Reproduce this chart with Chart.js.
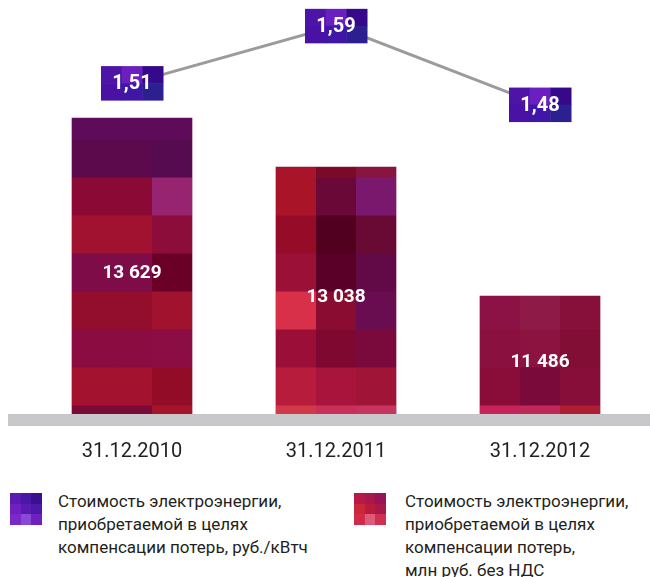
<!DOCTYPE html>
<html>
<head>
<meta charset="utf-8">
<script src="https://cdn.jsdelivr.net/npm/chart.js@4"></script>
<style>
  body { margin: 0; background: #fff; }
  #wrap { position: relative; width: 650px; height: 577px; font-family: Roboto, "Liberation Sans", sans-serif; color: #231f20; }
  #chart { position: absolute; left: 0; top: 0; }
  .sq { position: absolute; top: 493px; width: 32px; height: 32px; display: grid; grid-template-columns: repeat(3, 1fr); grid-template-rows: repeat(3, 1fr); }
  .lg { position: absolute; top: 490px; font-size: 17px; line-height: 23px; }
</style>
</head>
<body>
<div id="wrap">
  <canvas id="chart" width="650" height="475"></canvas>
  <div class="sq" id="sq1" style="left:10px"></div>
  <div class="lg" style="left:58px">Стоимость электроэнергии,<br>приобретаемой в целях<br>компенсации потерь, руб./кВтч</div>
  <div class="sq" id="sq2" style="left:354px"></div>
  <div class="lg" style="left:405px">Стоимость электроэнергии,<br>приобретаемой в целях<br>компенсации потерь,<br>млн руб. без НДС</div>
</div>
<script>
// Data
const categories = ['31.12.2010', '31.12.2011', '31.12.2012'];
const costMln = [13629, 13038, 11486];      // млн руб. без НДС
const pricePerKwh = [1.51, 1.59, 1.48];     // руб./кВтч

// Mosaic tile colours per bar, rows from the bottom up, 3 columns each
const BAR_TILES = [
  [['#7a0a38', '#7a0a38', '#a6142c'], ['#a3122e', '#a3122e', '#920c28'], ['#8a0c40', '#8a0c40', '#8c0c44'],
   ['#930e2c', '#930e2c', '#a0122e'], ['#7d0c48', '#7d0c48', '#6a0025'], ['#a01230', '#a01230', '#8c0c3a'],
   ['#8b0a35', '#8b0a35', '#962470'], ['#5c0a4c', '#5c0a4c', '#560a50'], ['#5e0c5a', '#5e0c5a', '#5e0c5a']],
  [['#d03a48', '#c8305a', '#c83460'], ['#b81c3c', '#a8143c', '#a01438'], ['#9a0e38', '#7e0830', '#7a0a3c'],
   ['#d83048', '#8a0c30', '#6a0c50'], ['#9a1036', '#5a0028', '#620a48'], ['#960c28', '#520020', '#680a34'],
   ['#aa1428', '#6a0838', '#7a186e'], ['#a8142c', '#7a0a28', '#8a1440']],
  [['#c8245a', '#c02858', '#b01c30'], ['#8a0c38', '#7a0a3a', '#860e38'], ['#8a1040', '#8c1240', '#820e36'],
   ['#8c1245', '#8e1a48', '#86103a']]
];
const BOX_TILES = [['#4e14a8', '#6c1fc0', '#35098a'], ['#4a12a4', '#4016a6', '#2c2090']];
const LEGEND_PURPLE = ['#5a1cb0', '#4a18a8', '#3a1090', '#7020c0', '#5a1cb0', '#5018a8', '#7a28c8', '#8a48d8', '#7020c0'];
const LEGEND_RED = ['#b81a48', '#a8184a', '#981458', '#c82838', '#b81a40', '#a81848', '#d02c48', '#e0587a', '#d03050'];

function fillSquare(id, colors) {
  const el = document.getElementById(id);
  colors.forEach(c => {
    const d = document.createElement('div');
    d.style.background = c;
    el.appendChild(d);
  });
}
fillSquare('sq1', LEGEND_PURPLE);
fillSquare('sq2', LEGEND_RED);

const fmtThousands = v => String(v).replace(/\B(?=(\d{3})+(?!\d))/g, ' ');
const fmtComma = v => v.toFixed(2).replace('.', ',');

// Paint bars with mosaic tiles
const mosaicPlugin = {
  id: 'mosaic',
  afterDatasetsDraw(chart) {
    const ctx = chart.ctx;
    const base = chart.chartArea.bottom;
    chart.getDatasetMeta(0).data.forEach((bar, i) => {
      const x = bar.x, y = bar.y, width = bar.width;
      const left = x - width / 2, colW = width / 3;
      ctx.save();
      ctx.beginPath();
      ctx.rect(left, y, width, base - y);
      ctx.clip();
      let bottom = base;
      BAR_TILES[i].forEach((row, r) => {
        const h = r === 0 ? 9 : 38;
        row.forEach((c, j) => {
          ctx.fillStyle = c;
          ctx.fillRect(left + j * colW, bottom - h, colW + 0.5, h + 0.5);
        });
        bottom -= h;
      });
      ctx.restore();

      ctx.save();
      ctx.fillStyle = '#fff';
      ctx.textAlign = 'center';
      ctx.textBaseline = 'middle';
      ctx.font = 'bold 19px Roboto, "Liberation Sans", sans-serif';
      ctx.fillText(fmtThousands(costMln[i]), x, (y + base) / 2 + 7);
      ctx.restore();
    });
  }
};

// Gray base band and boxed labels on the line
const labelsPlugin = {
  id: 'labels',
  afterDatasetsDraw(chart) {
    const ctx = chart.ctx;
    const area = chart.chartArea;
    ctx.save();
    ctx.fillStyle = '#c8c8ca';
    ctx.fillRect(8, area.bottom, chart.width - 8, 12);

    ctx.textAlign = 'center';
    ctx.textBaseline = 'middle';
    chart.getDatasetMeta(1).data.forEach((pt, i) => {
      const w = 62, h = 34;
      const left = pt.x - w / 2, top = pt.y - h / 2;
      BOX_TILES.forEach((row, r) => {
        row.forEach((c, j) => {
          ctx.fillStyle = c;
          ctx.fillRect(left + j * w / 3, top + r * h / 2, w / 3 + 0.5, h / 2 + 0.5);
        });
      });
      ctx.fillStyle = '#fff';
      ctx.font = 'bold 20px Roboto, "Liberation Sans", sans-serif';
      ctx.fillText(fmtComma(pricePerKwh[i]), pt.x, pt.y + 1);
    });
    ctx.restore();
  }
};

new Chart(document.getElementById('chart'), {
  type: 'bar',
  data: {
    labels: categories,
    datasets: [
      {
        label: 'Стоимость электроэнергии, млн руб. без НДС',
        data: costMln,
        backgroundColor: '#8a0c38',
        barThickness: 120,
        yAxisID: 'y',
        order: 1
      },
      {
        type: 'line',
        label: 'Стоимость электроэнергии, руб./кВтч',
        data: pricePerKwh,
        borderColor: '#9b9b9d',
        borderWidth: 3,
        pointRadius: 0,
        tension: 0,
        yAxisID: 'y2',
        order: 0
      }
    ]
  },
  options: {
    responsive: false,
    animation: false,
    layout: { padding: { left: 30, right: 8, top: 0, bottom: 0 } },
    plugins: { legend: { display: false }, tooltip: { enabled: false } },
    scales: {
      x: {
        grid: { display: false, drawTicks: false },
        border: { display: false },
        ticks: { color: '#231f20', padding: 26, font: { family: 'Roboto', size: 20 } },
        afterFit(scale) { scale.height = 61; }
      },
      y: { display: false, min: 10066, max: 15050 },
      y2: { display: false, min: 1.0477, max: 1.6261 }
    }
  },
  plugins: [mosaicPlugin, labelsPlugin]
});
</script>
</body>
</html>
